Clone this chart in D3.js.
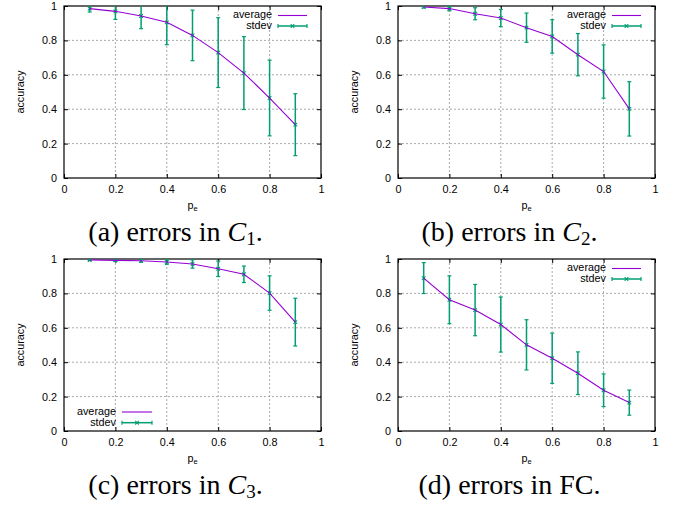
<!DOCTYPE html>
<html><head><meta charset="utf-8">
<script src="https://cdn.jsdelivr.net/npm/d3@7"></script>
<style>
body{margin:0;background:#fff;}
svg{display:block;}
</style></head>
<body>
<svg id="c" width="682" height="505"></svg>
<script>
const pe = [0.1,0.2,0.3,0.4,0.5,0.6,0.7,0.8,0.9];
const xTicks = [0,0.2,0.4,0.6,0.8,1];
const yTicks = [0,0.2,0.4,0.6,0.8,1];
const xTickLabels = ["0","0.2","0.4","0.6","0.8","1"];
const yTickLabels = ["0","0.2","0.4","0.6","0.8","1"];

const avgC1 = [0.985,0.969,0.942,0.905,0.829,0.729,0.610,0.465,0.310];
const sdC1  = [0.020,0.047,0.074,0.130,0.147,0.203,0.212,0.220,0.180];
const avgC2 = [0.994,0.985,0.955,0.930,0.874,0.823,0.717,0.619,0.402];
const sdC2  = [0.005,0.013,0.035,0.050,0.085,0.097,0.123,0.155,0.158];
const avgC3 = [0.994,0.992,0.990,0.983,0.971,0.943,0.911,0.802,0.633];
const sdC3  = [0.003,0.006,0.009,0.014,0.024,0.045,0.048,0.100,0.139];
const avgFC = [0.889,0.763,0.703,0.619,0.501,0.423,0.336,0.237,0.165];
const sdFC  = [0.090,0.139,0.149,0.160,0.146,0.146,0.124,0.095,0.073];

const captionPrefix = ["(a) errors in ","(b) errors in ","(c) errors in ","(d) errors in "];
const legendLabels = ["average","stdev"];

const purple = "#9400d3", green = "#009e73";
const svg = d3.select("#c");

const panels = [
  {avg:avgC1, sd:sdC1, l:64, r:321, t:6, b:178, legend:"tr", cap:0, sub:"1"},
  {avg:avgC2, sd:sdC2, l:398, r:655, t:6, b:178, legend:"tr", cap:1, sub:"2"},
  {avg:avgC3, sd:sdC3, l:64, r:321, t:259, b:431, legend:"bl", cap:2, sub:"3"},
  {avg:avgFC, sd:sdFC, l:398, r:655, t:259, b:431, legend:"tr", cap:3, sub:null}
];

const sans = "'Liberation Sans', Arial, sans-serif";
const serif = "'Liberation Serif', 'Times New Roman', serif";
const FS = "10.8px";

panels.forEach((p,pi)=>{
  const g = svg.append("g");
  const x = d3.scaleLinear().domain([0,1]).range([p.l,p.r]);
  const y = d3.scaleLinear().domain([0,1]).range([p.b,p.t]);
  const clipId = "clip"+pi;
  g.append("clipPath").attr("id",clipId).append("rect")
    .attr("x",p.l).attr("y",p.t).attr("width",p.r-p.l).attr("height",p.b-p.t);

  // grid
  g.selectAll(".gx").data(xTicks.slice(1,-1)).join("line")
    .attr("x1",d=>x(d)).attr("x2",d=>x(d)).attr("y1",p.t).attr("y2",p.b)
    .attr("stroke","#a0a0a0").attr("stroke-width",0.9).attr("stroke-dasharray","2,2");
  g.selectAll(".gy").data(yTicks.slice(1,-1)).join("line")
    .attr("y1",d=>y(d)).attr("y2",d=>y(d)).attr("x1",p.l).attr("x2",p.r)
    .attr("stroke","#a0a0a0").attr("stroke-width",0.9).attr("stroke-dasharray","2,2");

  // axes with inward ticks, mirrored
  const ax = (axis, tr) => {
    const a = g.append("g").attr("transform",tr).call(axis);
    a.select(".domain").remove();
    a.selectAll("line").attr("stroke","#000").attr("stroke-width",1);
    a.selectAll("text").attr("font-family",sans).attr("font-size",FS).attr("fill","#000");
    return a;
  };
  ax(d3.axisBottom(x).tickValues(xTicks).tickFormat((d,i)=>xTickLabels[i]).tickSizeInner(-4).tickSizeOuter(0).tickPadding(7), `translate(0,${p.b})`);
  ax(d3.axisTop(x).tickValues(xTicks).tickFormat("").tickSizeInner(-4).tickSizeOuter(0), `translate(0,${p.t})`);
  ax(d3.axisLeft(y).tickValues(yTicks).tickFormat((d,i)=>yTickLabels[i]).tickSizeInner(-4).tickSizeOuter(0).tickPadding(7), `translate(${p.l},0)`);
  ax(d3.axisRight(y).tickValues(yTicks).tickFormat("").tickSizeInner(-4).tickSizeOuter(0), `translate(${p.r},0)`);

  // border
  g.append("rect").attr("x",p.l).attr("y",p.t).attr("width",p.r-p.l).attr("height",p.b-p.t)
    .attr("fill","none").attr("stroke","#000").attr("stroke-width",1.2);

  // axis titles
  g.append("text").attr("transform",`translate(${p.l-40.5},${(p.t+p.b)/2}) rotate(-90)`)
    .attr("text-anchor","middle")
    .attr("font-family",sans).attr("font-size",FS).text("accuracy");
  const xl = g.append("text").attr("x",(p.l+p.r)/2).attr("y",p.b+30.5)
    .attr("text-anchor","middle").attr("font-family",sans).attr("font-size",FS);
  xl.append("tspan").text("p");
  xl.append("tspan").attr("font-size","7.5px").attr("dy","2.5").text("e");

  // data
  const data = pe.map((v,i)=>({x:v, a:p.avg[i], s:p.sd[i]}));
  const plot = g.append("g").attr("clip-path",`url(#${clipId})`);
  // error bars
  const eb = plot.selectAll(".eb").data(data).join("g");
  eb.append("line").attr("x1",d=>x(d.x)).attr("x2",d=>x(d.x))
    .attr("y1",d=>y(d.a+d.s)).attr("y2",d=>y(d.a-d.s))
    .attr("stroke",green).attr("stroke-width",1.5);
  [1,-1].forEach(sg=>{
    eb.append("line").attr("x1",d=>x(d.x)-2).attr("x2",d=>x(d.x)+2)
      .attr("y1",d=>y(d.a+sg*d.s)).attr("y2",d=>y(d.a+sg*d.s))
      .attr("stroke",green).attr("stroke-width",1.2);
  });
  eb.append("path").attr("d",d=>{const cx=x(d.x),cy=y(d.a),r=1.8;return `M${cx-r},${cy-r}L${cx+r},${cy+r}M${cx-r},${cy+r}L${cx+r},${cy-r}`;})
    .attr("stroke",green).attr("stroke-width",1.1).attr("fill","none");
  // average line
  plot.append("path").datum(data)
    .attr("d",d3.line().x(d=>x(d.x)).y(d=>y(d.a)))
    .attr("fill","none").attr("stroke",purple).attr("stroke-width",1.1);

  // legend
  let tx, x0, x1, ys;
  if(p.legend==="tr"){ tx = p.r-49; x0 = p.r-43; x1 = p.r-14; ys=[p.t+9.5, p.t+20]; }
  else { tx = p.l+52; x0 = p.l+58; x1 = p.l+88; ys=[p.b-19, p.b-8.3]; }
  legendLabels.forEach((lab,i)=>{
    const yy = ys[i];
    g.append("text").attr("x",tx).attr("y",yy).attr("dominant-baseline","middle")
      .attr("text-anchor","end").attr("font-family",sans).attr("font-size",FS).text(lab);
    if(i===0){
      g.append("line").attr("x1",x0).attr("x2",x1).attr("y1",yy).attr("y2",yy)
        .attr("stroke",purple).attr("stroke-width",1.1);
    } else {
      g.append("line").attr("x1",x0).attr("x2",x1).attr("y1",yy).attr("y2",yy)
        .attr("stroke",green).attr("stroke-width",1.5);
      [x0,x1].forEach(xx=>g.append("line").attr("x1",xx).attr("x2",xx).attr("y1",yy-2).attr("y2",yy+2)
        .attr("stroke",green).attr("stroke-width",1.2));
      const cx=(x0+x1)/2, r=1.8;
      g.append("path").attr("d",`M${cx-r},${yy-r}L${cx+r},${yy+r}M${cx-r},${yy+r}L${cx+r},${yy-r}`)
        .attr("stroke",green).attr("stroke-width",1.1);
    }
  });

  // caption
  const cap = g.append("text").attr("x",(p.l+p.r)/2 - 17).attr("y",p.b+62.5)
    .attr("text-anchor","middle").attr("font-family",serif).attr("font-size","28px").attr("fill","#000");
  cap.append("tspan").text(captionPrefix[p.cap]);
  if(p.sub){
    cap.append("tspan").attr("font-style","italic").text("C");
    cap.append("tspan").attr("font-size","19px").attr("dy","4.5").text(p.sub);
    cap.append("tspan").attr("dy","-4.5").text(".");
  } else {
    cap.append("tspan").text("FC.");
  }
});
</script>
</body></html>
